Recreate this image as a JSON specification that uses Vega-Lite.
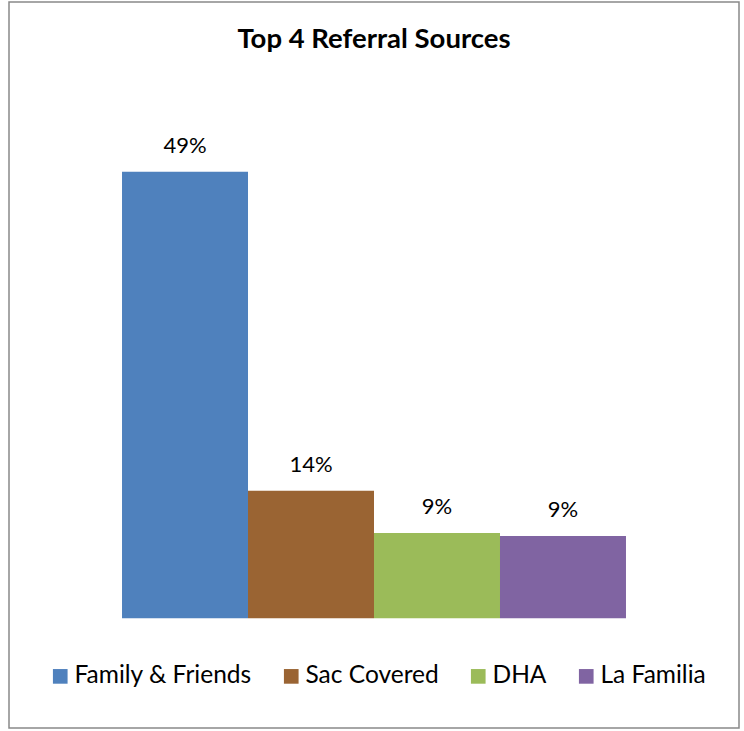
{
  "$schema": "https://vega.github.io/schema/vega-lite/v6.json",
  "autosize": "none",
  "width": 730,
  "height": 726,
  "padding": {"left": 9, "top": 2, "right": 5, "bottom": 3},
  "background": "white",
  "config": {
    "view": {"stroke": "#898989", "strokeWidth": 1.5},
    "font": "Lato"
  },
  "datasets": {
    "sources": [
      {"source": "Family & Friends", "share": 0.49},
      {"source": "Sac Covered", "share": 0.14},
      {"source": "DHA", "share": 0.0936},
      {"source": "La Familia", "share": 0.0903}
    ],
    "heading": [
      {"label": "Top 4 Referral Sources"}
    ]
  },
  "data": {"name": "sources"},
  "layer": [
    {
      "mark": {"type": "bar"},
      "encoding": {
        "x": {
          "field": "source",
          "type": "nominal",
          "sort": ["Family & Friends", "Sac Covered", "DHA", "La Familia"],
          "scale": {"paddingInner": 0, "paddingOuter": 0.897, "align": 0.5},
          "axis": null
        },
        "y": {
          "field": "share",
          "type": "quantitative",
          "scale": {"domain": [-0.1204, 0.6762], "nice": false, "zero": false},
          "axis": null
        },
        "y2": {"datum": 0},
        "color": {
          "field": "source",
          "type": "nominal",
          "scale": {
            "domain": ["Family & Friends", "Sac Covered", "DHA", "La Familia"],
            "range": ["#4F81BD", "#9A6433", "#9BBB59", "#8064A2"]
          },
          "legend": {
            "title": null,
            "orient": "none",
            "direction": "horizontal",
            "legendX": 39,
            "legendY": 662,
            "padding": 0,
            "symbolType": "square",
            "symbolSize": 215,
            "symbolStrokeWidth": 0,
            "symbolOpacity": 1,
            "labelFont": "Lato",
            "labelFontSize": 24.5,
            "labelColor": "#000000",
            "labelOffset": 2,
            "columnPadding": 27,
            "labelLimit": 400
          }
        }
      }
    },
    {
      "mark": {"type": "text", "dy": -19, "baseline": "alphabetic", "align": "center", "fontSize": 22, "font": "Lato", "color": "#000000"},
      "encoding": {
        "x": {
          "field": "source",
          "type": "nominal",
          "sort": ["Family & Friends", "Sac Covered", "DHA", "La Familia"]
        },
        "y": {"field": "share", "type": "quantitative"},
        "text": {"field": "share", "type": "quantitative", "format": ".0%"}
      }
    },
    {
      "data": {"name": "heading"},
      "mark": {"type": "text", "baseline": "alphabetic", "align": "center", "fontSize": 27.5, "fontWeight": "bold", "font": "Lato", "color": "#000000"},
      "encoding": {
        "x": {"datum": "DHA", "type": "nominal", "bandPosition": 0},
        "y": {"datum": 0.6254, "type": "quantitative"},
        "text": {"field": "label", "type": "nominal"}
      }
    }
  ]
}
